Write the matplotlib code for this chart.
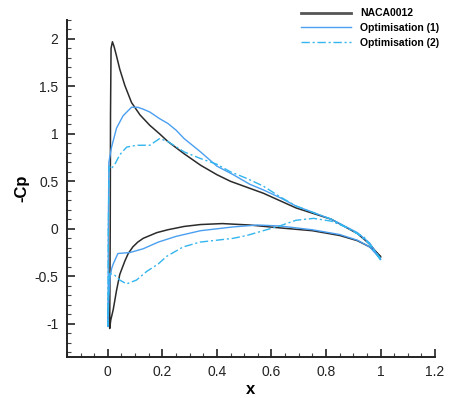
import matplotlib.pyplot as plt
from matplotlib.ticker import MultipleLocator

# -Cp distributions, each listed from trailing edge over the upper surface,
# round the leading edge and back along the lower surface
naca_x = [1.0, 0.96, 0.915, 0.82, 0.69, 0.57, 0.45, 0.40, 0.34, 0.28, 0.25,
          0.22, 0.19, 0.154, 0.118, 0.087, 0.0625, 0.044, 0.032, 0.023, 0.017,
          0.012, 0.010, 0.009,
          0.007,
          0.011, 0.02, 0.032, 0.044, 0.0625, 0.075, 0.092, 0.11, 0.13, 0.18,
          0.22, 0.28, 0.34, 0.42, 0.52, 0.63, 0.75, 0.85, 0.915, 0.96, 1.0]
naca_cp = [-0.30, -0.16, -0.05, 0.10, 0.22, 0.375, 0.50, 0.57, 0.67, 0.79, 0.855,
           0.92, 1.00, 1.09, 1.20, 1.33, 1.51, 1.68, 1.82, 1.92, 1.97,
           1.90, 1.2, 0.0,
           -1.05,
           -0.96, -0.85, -0.65, -0.48, -0.34, -0.26, -0.19, -0.14, -0.10, -0.04,
           -0.01, 0.025, 0.045, 0.055, 0.04, 0.01, -0.02, -0.07, -0.125, -0.19,
           -0.29]

opt1_x = [1.0, 0.96, 0.915, 0.82, 0.69, 0.63, 0.57, 0.52, 0.46, 0.40, 0.34,
          0.31, 0.28, 0.25, 0.22, 0.19, 0.154, 0.13, 0.11, 0.087, 0.056,
          0.032, 0.013, 0.004, 0.002,
          0.001,
          0.003, 0.008, 0.014, 0.02, 0.037, 0.081, 0.13, 0.185, 0.25, 0.34,
          0.46, 0.55, 0.63, 0.75, 0.85, 0.915, 0.96, 1.0]
opt1_cp = [-0.32, -0.15, -0.04, 0.10, 0.24, 0.33, 0.41, 0.47, 0.57, 0.66, 0.81,
           0.88, 0.95, 1.04, 1.11, 1.16, 1.23, 1.26, 1.28, 1.28, 1.19,
           1.06, 0.85, 0.70, 0.0,
           -1.03,
           -0.75, -0.52, -0.42, -0.37, -0.26, -0.25, -0.21, -0.14, -0.08, -0.02,
           0.02, 0.04, 0.03, -0.01, -0.06, -0.12, -0.19, -0.32]

opt2_x = [1.0, 0.96, 0.915, 0.82, 0.69, 0.63, 0.57, 0.51, 0.45, 0.40, 0.34,
          0.28, 0.22, 0.19, 0.154, 0.105, 0.069, 0.044, 0.026, 0.012, 0.005,
          0.002,
          0.001,
          0.003, 0.007, 0.026, 0.044, 0.069, 0.105, 0.142, 0.185, 0.216, 0.277,
          0.338, 0.40, 0.46, 0.51, 0.57, 0.63, 0.69, 0.755, 0.82, 0.88, 0.94,
          1.0]
opt2_cp = [-0.33, -0.16, -0.05, 0.10, 0.24, 0.34, 0.45, 0.53, 0.60, 0.68, 0.74,
           0.81, 0.92, 0.95, 0.88, 0.88, 0.86, 0.78, 0.68, 0.63, 0.66,
           0.0,
           -1.02,
           -0.6, -0.47, -0.49, -0.54, -0.58, -0.54, -0.45, -0.37, -0.29, -0.19,
           -0.14, -0.12, -0.10, -0.07, -0.02, 0.03, 0.09, 0.11, 0.08, 0.01, -0.09,
           -0.31]

plt.rcParams['font.family'] = ['Liberation Sans', 'DejaVu Sans']

fig = plt.figure(figsize=(4.58, 3.98), dpi=100)
ax = fig.add_axes([0.146, 0.103, 0.804, 0.847])

ax.plot(naca_x, naca_cp, color='#2b2b2b', lw=1.1, label='NACA0012')
ax.plot(opt1_x, opt1_cp, color='#4a9ff0', lw=1.0, label='Optimisation (1)')
ax.plot(opt2_x, opt2_cp, color='#33b5ee', lw=1.0, dashes=(6, 2, 1.5, 2),
        label='Optimisation (2)')

ax.set_xlim(-0.15, 1.2)
ax.set_ylim(-1.35, 2.2)
ax.xaxis.set_minor_locator(MultipleLocator(0.05))
ax.yaxis.set_minor_locator(MultipleLocator(0.1))
ax.set_xticks([0, 0.2, 0.4, 0.6, 0.8, 1, 1.2])
ax.set_xticklabels(['0', '0.2', '0.4', '0.6', '0.8', '1', '1.2'])
ax.set_yticks([-1, -0.5, 0, 0.5, 1, 1.5, 2])
ax.set_yticklabels(['-1', '-0.5', '0', '0.5', '1', '1.5', '2'])

for side in ('top', 'right'):
    ax.spines[side].set_visible(False)
for side in ('left', 'bottom'):
    ax.spines[side].set_linewidth(1.4)
    ax.spines[side].set_color('#222222')

ax.tick_params(which='major', direction='in', length=6, width=1.2,
               labelsize=10, colors='#222222', pad=6)
ax.tick_params(which='minor', direction='in', length=3, width=0.8,
               colors='#444444')

ax.set_xlabel('x', fontsize=12, fontweight='bold', labelpad=2)
ax.set_ylabel('-Cp', fontsize=12, fontweight='bold', labelpad=4)

leg = fig.legend(loc='upper left', bbox_to_anchor=(0.64, 1.0), frameon=False,
                 prop={'size': 7.5, 'weight': 'bold'}, handlelength=4.8,
                 handletextpad=0.8, labelspacing=0.45, borderpad=0.3)
leg.get_lines()[0].set_linewidth(2.0)
leg.get_lines()[0].set_color('#555555')

fig.savefig('out.png', dpi=100)
